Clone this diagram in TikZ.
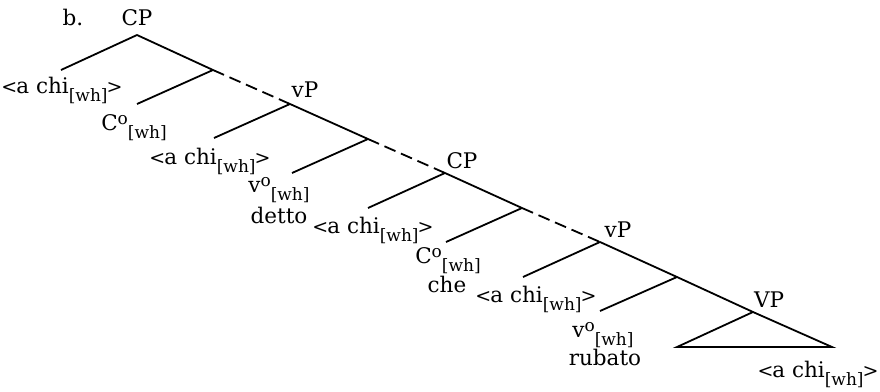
\documentclass[tikz,border=0pt]{standalone}
\usepackage{fontspec}
\setmainfont{DejaVu Serif}
\newcommand\subtx[1]{\raisebox{-8.5pt}{\fontsize{17}{17}\selectfont #1}}
\newcommand\suptx[1]{\raisebox{6pt}{\fontsize{17}{17}\selectfont #1}}
\newcommand\angl[1]{{\fontsize{19}{19}\selectfont #1}}
\newcommand\achi{\angl{<}\kern-1pt a chi\subtx{[wh]}\kern-1pt\angl{>}}
\newcommand\headwh[1]{#1\suptx{o}\subtx{[wh]}}
\begin{document}
\begin{tikzpicture}[x=1pt,y=-1pt,
  lab/.style={anchor=base,inner sep=0pt,font=\fontsize{21.5}{24}\selectfont},
  br/.style={line width=1.8pt},
  dsh/.style={br,dash pattern=on 12pt off 6pt}]
\useasboundingbox (0,0) rectangle (880,391);
% spine
\coordinate (r0) at (137,35);
\coordinate (s1) at (213,70);
\coordinate (r1) at (290,104);
\coordinate (s2) at (368,139);
\coordinate (r2) at (445,173);
\coordinate (s3) at (522,208);
\coordinate (r3) at (600,242);
\coordinate (s4) at (677,277);
\coordinate (r4) at (753,312);
\coordinate (t1) at (677,347);
\coordinate (t2) at (832,347);
% leaves
\coordinate (l0) at (61,70);
\coordinate (l1) at (137,104);
\coordinate (l2) at (214,138);
\coordinate (l3) at (292,173);
\coordinate (l4) at (368,208);
\coordinate (l5) at (446,242);
\coordinate (l6) at (523,277);
\coordinate (l7) at (600,311);
\draw[br] (r0) -- (s1);
\draw[dsh] (s1) -- (r1);
\draw[br] (r1) -- (s2);
\draw[dsh] (s2) -- (r2);
\draw[br] (r2) -- (s3);
\draw[dsh] (s3) -- (r3);
\draw[br] (r3) -- (s4) -- (r4);
\draw[br] (r4) -- (t2) -- (t1) -- cycle;
\draw[br] (r0) -- (l0);
\draw[br] (s1) -- (l1);
\draw[br] (r1) -- (l2);
\draw[br] (s2) -- (l3);
\draw[br] (r2) -- (l4);
\draw[br] (s3) -- (l5);
\draw[br] (r3) -- (l6);
\draw[br] (s4) -- (l7);
% labels
\node[lab] (b) at (73,25) {b.};
\node[lab] (cp1) at (137,25) {CP};
\node[lab] (a1) at (62,93) {\achi};
\node[lab] (c1) at (134,130) {\headwh{C}};
\node[lab] (vp1) at (305,97) {vP};
\node[lab] (a2) at (210,164) {\achi};
\node[lab] (v1) at (279,192) {\headwh{v}};
\node[lab] (detto) at (279,223) {detto};
\node[lab] (cp2) at (462,168) {CP};
\node[lab] (a3) at (373,233) {\achi};
\node[lab] (c2) at (448,263) {\headwh{C}};
\node[lab] (che) at (447,292) {che};
\node[lab] (vp2) at (618,237) {vP};
\node[lab] (a4) at (536,302) {\achi};
\node[lab] (v2) at (603,337) {\headwh{v}};
\node[lab] (rubato) at (605,365) {rubato};
\node[lab] (vp3) at (769,307) {VP};
\node[lab] (a5) at (818,377) {\achi};
\end{tikzpicture}
\end{document}
